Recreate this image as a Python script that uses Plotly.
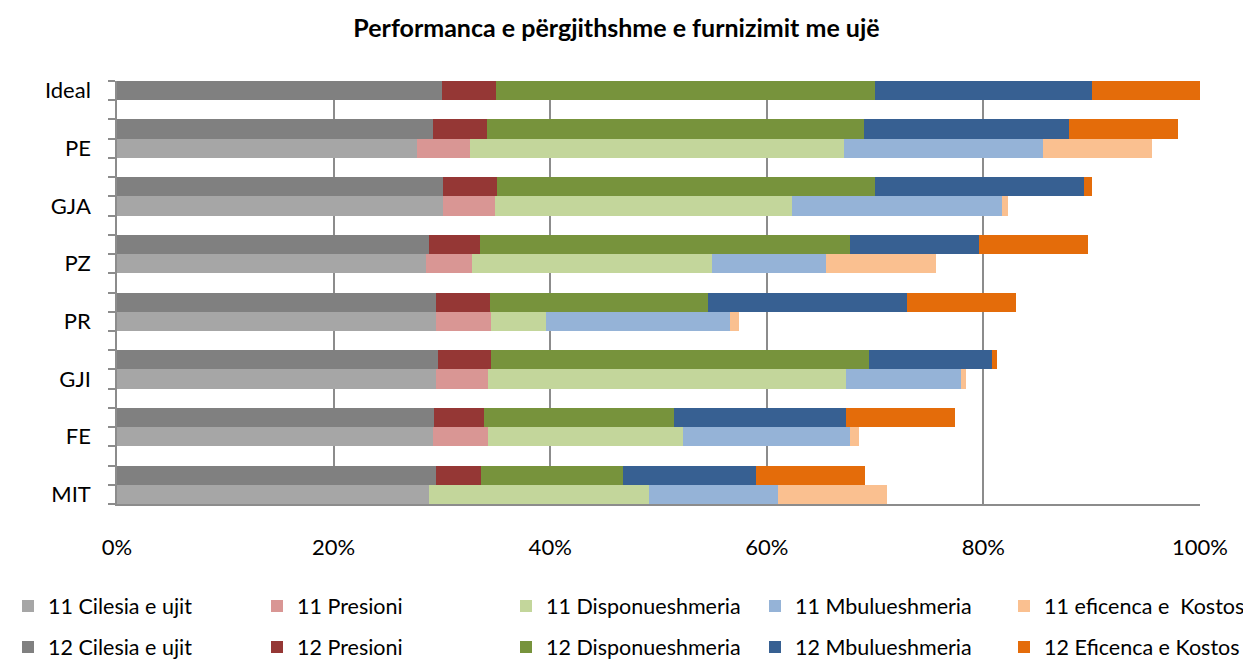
import plotly.graph_objects as go

categories = ["Ideal", "PE", "GJA", "PZ", "PR", "GJI", "FE", "MIT"]
cats11 = categories[1:]

# Series "12" (dark) – segments in percent, order: Ideal..MIT
cil12 = [30.0, 29.2, 30.1, 28.8, 29.5, 29.6, 29.3, 29.5]
pre12 = [5.0, 5.0, 5.0, 4.7, 4.9, 4.9, 4.6, 4.1]
dis12 = [35.0, 34.8, 34.9, 34.2, 20.2, 34.9, 17.5, 13.1]
mbu12 = [20.0, 18.9, 19.3, 11.9, 18.3, 11.4, 15.9, 12.3]
efi12 = [10.0, 10.1, 0.7, 10.1, 10.1, 0.45, 10.1, 10.1]

# Series "11" (light) – PE..MIT
cil11 = [27.7, 30.1, 28.5, 29.5, 29.5, 29.2, 28.8]
pre11 = [4.9, 4.8, 4.3, 5.0, 4.8, 5.1, 0.0]
dis11 = [34.5, 27.4, 22.1, 5.1, 33.0, 18.0, 20.3]
mbu11 = [18.4, 19.4, 10.6, 17.0, 10.6, 15.4, 11.9]
efi11 = [10.1, 0.6, 10.1, 0.8, 0.5, 0.8, 10.1]

names11 = ["11 Cilesia e ujit", "11 Presioni", "11 Disponueshmeria",
           "11 Mbulueshmeria", "11 eficenca e  Kostos"]
names12 = ["12 Cilesia e ujit", "12 Presioni", "12 Disponueshmeria",
           "12 Mbulueshmeria", "12 Eficenca e Kostos"]
colors11 = ["#A6A6A6", "#D99694", "#C3D69B", "#95B3D7", "#FAC090"]
colors12 = ["#808080", "#953735", "#77933C", "#376092", "#E46C0A"]

x_ticks = [0, 20, 40, 60, 80, 100]
x_ticktext = ["0%", "20%", "40%", "60%", "80%", "100%"]

# row layout: each category k>=1 has a "12" row (3k-1) and an "11" row (3k);
# Ideal only has the "12" bar on row 0
idx = {c: i for i, c in enumerate(categories)}
rows12 = [0 if c == "Ideal" else 3 * idx[c] - 1 for c in categories]
rows11 = [3 * idx[c] for c in cats11]
label_rows = [3 * idx[c] for c in categories]
n_rows = 3 * (len(categories) - 1) + 1

FONT = "Lato"
W, H = 1251, 659
OFF = 8  # page body margin offset
fig = go.Figure()

# legend columns (text x positions in px) and rows (centre y in px, screen)
col_text_x = [48, 298, 547, 796, 1045]
row_y = [606, 647]

legends = {}
li = 0
for r, (names, colors, series) in enumerate([
        (names11, colors11, [cil11, pre11, dis11, mbu11, efi11]),
        (names12, colors12, [cil12, pre12, dis12, mbu12, efi12])]):
    ys = rows11 if r == 0 else rows12
    for c, (name, col, vals) in enumerate(zip(names, colors, series)):
        li += 1
        lname = "legend" if li == 1 else f"legend{li}"
        fig.add_trace(go.Bar(y=ys, x=vals, name=name, orientation="h",
                             marker=dict(color=col, line=dict(width=0)),
                             width=1, legend=lname))
        legends[lname] = dict(
            orientation="h", xref="container", yref="container",
            x=(col_text_x[c] - 49) / W, xanchor="left",
            y=1 - (row_y[r] - OFF) / H, yanchor="middle",
            font=dict(family=FONT, size=21.5, color="#000000"),
            bgcolor="rgba(0,0,0,0)")

grid_col = "#8C8C8C"

fig.update_layout(
    width=W, height=H,
    barmode="stack",
    bargap=0,
    plot_bgcolor="white", paper_bgcolor="white",
    margin=dict(l=117 - OFF, r=W - (1200 - OFF), t=81 - OFF,
                b=H - (504 - OFF), autoexpand=False),
    title=dict(text="<b>Performanca e përgjithshme e furnizimit me ujë</b>",
               x=(616.5 - OFF) / W, xanchor="center", y=1 - 20 / H,
               yanchor="middle",
               font=dict(family=FONT, size=25, color="#000000")),
    font=dict(family=FONT, size=22, color="#000000"),
    showlegend=True,
    xaxis=dict(range=[0, 100], tickvals=x_ticks, ticktext=x_ticktext,
               showgrid=True, gridcolor=grid_col, gridwidth=1.5,
               showline=True, linecolor=grid_col, linewidth=1.5,
               ticks="", ticklabelstandoff=23, zeroline=False,
               automargin=False,
               tickfont=dict(family=FONT, size=22), fixedrange=True),
    yaxis=dict(range=[n_rows - 0.5, -0.5], tickvals=label_rows,
               ticktext=categories, showgrid=False, zeroline=False,
               showline=True, linecolor=grid_col, linewidth=1.5,
               ticks="", ticklabelstandoff=20, automargin=False,
               tickfont=dict(family=FONT, size=22),
               minor=dict(tickvals=[r - 0.5 for r in range(n_rows + 1)],
                          ticks="outside", ticklen=7, tickwidth=1.5,
                          tickcolor=grid_col, showgrid=False)),
)
fig.update_layout(**legends)

fig.write_html("out.html")
